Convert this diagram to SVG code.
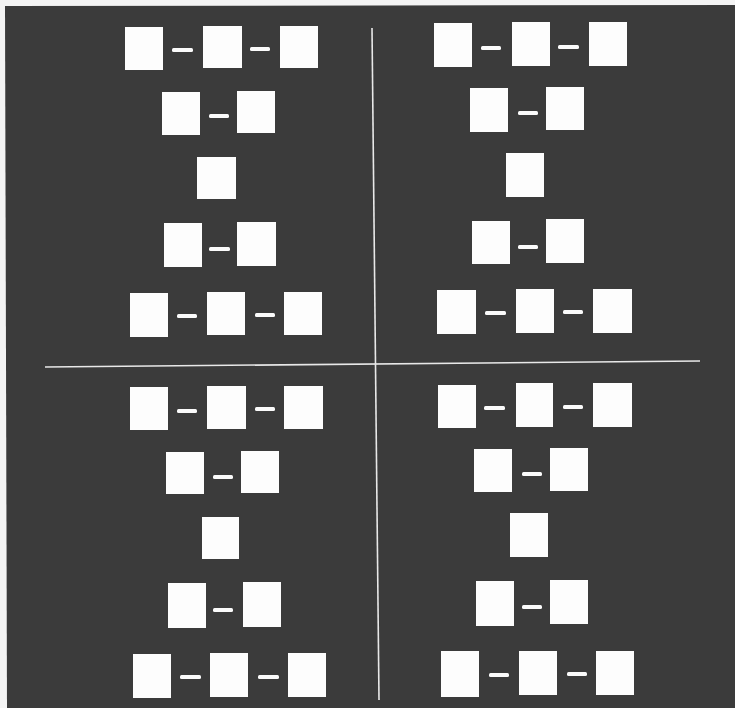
<svg xmlns="http://www.w3.org/2000/svg" width="735" height="708" viewBox="0 0 735 708">
<style>
.bg{fill:#3b3b3b}
.box{fill:#fdfdfd}
.dash{fill:#fbfbfb}
.rule{stroke:#e8e8e8;stroke-width:1.6;fill:none}
</style>
<rect width="735" height="708" fill="#f4f4f4"/>
<polygon class="bg" points="5,6 735,5 735,708 7,708"/>
<g id="connectors">
<line class="rule" x1="372" y1="28" x2="379" y2="700"/>
<line class="rule" x1="45" y1="367" x2="700" y2="361"/>
<!-- TL -->
<rect class="dash" x="172" y="48" width="21" height="4" rx="1.5"/>
<rect class="dash" x="250" y="47" width="20" height="4" rx="1.5"/>
<rect class="dash" x="209" y="114" width="20" height="4" rx="1.5"/>
<rect class="dash" x="209" y="247" width="21" height="4" rx="1.5"/>
<rect class="dash" x="177" y="314" width="20" height="4" rx="1.5"/>
<rect class="dash" x="255" y="313" width="20" height="4" rx="1.5"/>
<!-- TR -->
<rect class="dash" x="481" y="46" width="20" height="4" rx="1.5"/>
<rect class="dash" x="558" y="45" width="21" height="4" rx="1.5"/>
<rect class="dash" x="518" y="111" width="20" height="4" rx="1.5"/>
<rect class="dash" x="518" y="245" width="20" height="4" rx="1.5"/>
<rect class="dash" x="485" y="311" width="21" height="4" rx="1.5"/>
<rect class="dash" x="563" y="310" width="20" height="4" rx="1.5"/>
<!-- BL -->
<rect class="dash" x="177" y="409" width="20" height="4" rx="1.5"/>
<rect class="dash" x="255" y="407" width="20" height="4" rx="1.5"/>
<rect class="dash" x="213" y="475" width="20" height="4" rx="1.5"/>
<rect class="dash" x="213" y="608" width="20" height="4" rx="1.5"/>
<rect class="dash" x="180" y="675" width="21" height="4" rx="1.5"/>
<rect class="dash" x="258" y="675" width="21" height="4" rx="1.5"/>
<!-- BR -->
<rect class="dash" x="484" y="406" width="21" height="4" rx="1.5"/>
<rect class="dash" x="563" y="405" width="20" height="4" rx="1.5"/>
<rect class="dash" x="522" y="472" width="20" height="4" rx="1.5"/>
<rect class="dash" x="522" y="605" width="20" height="4" rx="1.5"/>
<rect class="dash" x="489" y="673" width="20" height="4" rx="1.5"/>
<rect class="dash" x="567" y="672" width="20" height="4" rx="1.5"/>
</g>
<!-- Top-left quadrant -->
<g id="tl-r1-a"><rect class="box" x="125" y="27" width="38" height="43"/></g>
<g id="tl-r1-b"><rect class="box" x="203" y="26" width="39" height="42"/></g>
<g id="tl-r1-c"><rect class="box" x="280" y="26" width="38" height="42"/></g>
<g id="tl-r2-a"><rect class="box" x="162" y="92" width="38" height="43"/></g>
<g id="tl-r2-b"><rect class="box" x="237" y="91" width="38" height="42"/></g>
<g id="tl-r3-a"><rect class="box" x="197" y="157" width="39" height="42"/></g>
<g id="tl-r4-a"><rect class="box" x="164" y="223" width="38" height="44"/></g>
<g id="tl-r4-b"><rect class="box" x="237" y="222" width="39" height="44"/></g>
<g id="tl-r5-a"><rect class="box" x="130" y="293" width="38" height="44"/></g>
<g id="tl-r5-b"><rect class="box" x="207" y="292" width="38" height="43"/></g>
<g id="tl-r5-c"><rect class="box" x="284" y="292" width="38" height="43"/></g>
<!-- Top-right quadrant -->
<g id="tr-r1-a"><rect class="box" x="434" y="23" width="38" height="44"/></g>
<g id="tr-r1-b"><rect class="box" x="512" y="22" width="38" height="44"/></g>
<g id="tr-r1-c"><rect class="box" x="589" y="22" width="38" height="44"/></g>
<g id="tr-r2-a"><rect class="box" x="470" y="88" width="38" height="44"/></g>
<g id="tr-r2-b"><rect class="box" x="546" y="87" width="38" height="43"/></g>
<g id="tr-r3-a"><rect class="box" x="506" y="153" width="38" height="44"/></g>
<g id="tr-r4-a"><rect class="box" x="472" y="221" width="38" height="43"/></g>
<g id="tr-r4-b"><rect class="box" x="546" y="219" width="38" height="44"/></g>
<g id="tr-r5-a"><rect class="box" x="437" y="290" width="39" height="44"/></g>
<g id="tr-r5-b"><rect class="box" x="516" y="289" width="38" height="44"/></g>
<g id="tr-r5-c"><rect class="box" x="593" y="289" width="39" height="44"/></g>
<!-- Bottom-left quadrant -->
<g id="bl-r1-a"><rect class="box" x="130" y="387" width="38" height="43"/></g>
<g id="bl-r1-b"><rect class="box" x="207" y="386" width="39" height="43"/></g>
<g id="bl-r1-c"><rect class="box" x="284" y="386" width="39" height="43"/></g>
<g id="bl-r2-a"><rect class="box" x="166" y="452" width="38" height="42"/></g>
<g id="bl-r2-b"><rect class="box" x="241" y="451" width="38" height="42"/></g>
<g id="bl-r3-a"><rect class="box" x="202" y="517" width="37" height="42"/></g>
<g id="bl-r4-a"><rect class="box" x="168" y="583" width="38" height="45"/></g>
<g id="bl-r4-b"><rect class="box" x="243" y="582" width="38" height="45"/></g>
<g id="bl-r5-a"><rect class="box" x="133" y="654" width="38" height="44"/></g>
<g id="bl-r5-b"><rect class="box" x="210" y="653" width="38" height="44"/></g>
<g id="bl-r5-c"><rect class="box" x="288" y="653" width="38" height="44"/></g>
<!-- Bottom-right quadrant -->
<g id="br-r1-a"><rect class="box" x="438" y="385" width="38" height="43"/></g>
<g id="br-r1-b"><rect class="box" x="516" y="383" width="37" height="44"/></g>
<g id="br-r1-c"><rect class="box" x="593" y="383" width="39" height="44"/></g>
<g id="br-r2-a"><rect class="box" x="474" y="449" width="38" height="43"/></g>
<g id="br-r2-b"><rect class="box" x="550" y="448" width="38" height="43"/></g>
<g id="br-r3-a"><rect class="box" x="510" y="513" width="38" height="44"/></g>
<g id="br-r4-a"><rect class="box" x="476" y="581" width="38" height="45"/></g>
<g id="br-r4-b"><rect class="box" x="550" y="580" width="38" height="44"/></g>
<g id="br-r5-a"><rect class="box" x="441" y="651" width="38" height="46"/></g>
<g id="br-r5-b"><rect class="box" x="519" y="651" width="38" height="44"/></g>
<g id="br-r5-c"><rect class="box" x="596" y="651" width="38" height="44"/></g>
</svg>
